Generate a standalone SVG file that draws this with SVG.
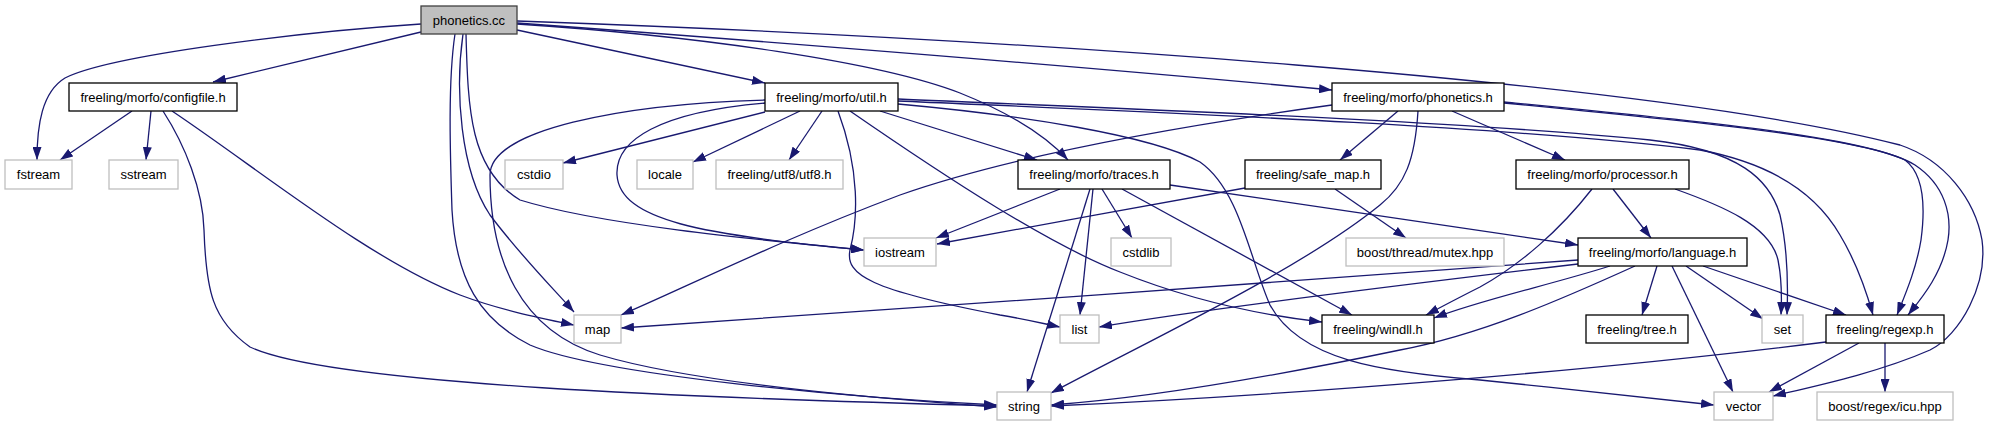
<svg xmlns="http://www.w3.org/2000/svg" width="1991" height="427" viewBox="0 0 1991 427">
<defs>
<marker id="ah" markerUnits="userSpaceOnUse" markerWidth="13" markerHeight="9" refX="13" refY="4.5" orient="auto" viewBox="0 0 13 9">
<path d="M0,0 L13,4.5 L0,9 z" fill="#191970"/>
</marker>
<style>
.e{fill:none;stroke:#191970;stroke-width:1.3;marker-end:url(#ah)}
.n rect{fill:#fff;stroke:#000;stroke-width:1.3}
.g rect{fill:#fff;stroke:#bfbfbf;stroke-width:1.3}
.r rect{fill:#bfbfbf;stroke:#404040;stroke-width:1.3}
text{font-family:"Liberation Sans",Arial,sans-serif;font-size:13px;fill:#000;text-anchor:middle}
</style>
</defs>
<rect width="1991" height="427" fill="#fff"/>
<g id="edges">
<!-- phonetics.cc -->
<path class="e" d="M421,24 C300,32 110,55 65,78 C42,92 37,125 37,160"/>
<path class="e" d="M421,32 L213,82"/>
<path class="e" d="M517,30 L765,83"/>
<path class="e" d="M517,23 C750,40 1100,68 1332,90"/>
<path class="e" d="M517,24 C700,36 880,62 960,93 C1010,113 1045,135 1068,160"/>
<path class="e" d="M517,21 C1000,38 1650,80 1900,145 C1945,160 1975,200 1982,240 C1988,285 1960,335 1930,350 C1880,372 1820,385 1773,396"/>
<path class="e" d="M455,34 C448,80 450,150 452,210 C456,280 480,320 530,345 C600,375 850,398 997,405"/>
<path class="e" d="M463,34 C455,90 460,170 490,215 C520,255 550,285 574,312"/>
<path class="e" d="M466,34 C468,110 470,170 520,200 C600,225 760,240 864,250"/>
<!-- configfile.h -->
<path class="e" d="M132,111 L60,160"/>
<path class="e" d="M151,111 L146,160"/>
<path class="e" d="M163,111 C185,145 203,190 204,230 C206,290 212,320 250,347 C330,385 700,398 997,406"/>
<path class="e" d="M172,111 C260,170 370,260 460,295 C500,310 540,318 574,325"/>
<!-- util.h -->
<path class="e" d="M765,112 L563,163"/>
<path class="e" d="M800,111 L693,162"/>
<path class="e" d="M822,111 L789,160"/>
<path class="e" d="M765,100 C620,104 490,130 490,175 C490,260 520,330 600,355 C700,385 900,400 997,407"/>
<path class="e" d="M765,103 C660,112 615,140 617,175 C620,220 700,235 864,250"/>
<path class="e" d="M838,111 C860,170 858,220 850,250 C845,275 870,290 1000,315 C1030,320 1045,324 1060,327"/>
<path class="e" d="M850,111 C950,180 1050,245 1120,272 C1190,300 1260,315 1322,322"/>
<path class="e" d="M880,111 L1037,160"/>
<path class="e" d="M898,104 C1020,115 1150,135 1200,162 C1240,190 1250,260 1270,305 C1300,360 1380,372 1480,380 C1560,388 1650,398 1714,405"/>
<path class="e" d="M898,99 C1100,108 1450,120 1650,140 C1740,150 1770,180 1780,215 C1788,250 1788,290 1787,315"/>
<path class="e" d="M898,101 C1100,110 1500,125 1700,150 C1780,165 1820,200 1840,235 C1855,260 1866,290 1873,315"/>
<!-- phonetics.h -->
<path class="e" d="M1332,105 C1150,130 1000,160 900,195 C780,240 680,290 621,315"/>
<path class="e" d="M1398,111 L1340,160"/>
<path class="e" d="M1418,111 C1415,160 1405,185 1380,205 C1300,270 1150,340 1051,393"/>
<path class="e" d="M1452,111 L1565,160"/>
<path class="e" d="M1504,103 C1700,122 1860,138 1905,160 C1925,175 1925,210 1921,240 C1916,270 1905,295 1897,315"/>
<path class="e" d="M1504,102 C1700,121 1870,137 1915,165 C1945,185 1952,215 1948,240 C1942,275 1920,300 1908,315"/>
<!-- traces.h -->
<path class="e" d="M1060,189 L936,238"/>
<path class="e" d="M1090,189 L1027,392"/>
<path class="e" d="M1093,189 L1080,315"/>
<path class="e" d="M1102,189 L1132,238"/>
<path class="e" d="M1122,189 L1352,315"/>
<path class="e" d="M1170,185 C1300,205 1450,225 1578,245"/>
<!-- safe_map.h -->
<path class="e" d="M1245,188 C1150,205 1030,227 937,244"/>
<path class="e" d="M1335,189 L1406,238"/>
<!-- processor.h -->
<path class="e" d="M1592,189 C1560,230 1520,265 1480,287 C1460,297 1445,305 1426,315"/>
<path class="e" d="M1613,189 L1651,238"/>
<path class="e" d="M1675,189 C1720,205 1770,225 1778,260 C1782,280 1782,295 1781,315"/>
<!-- language.h -->
<path class="e" d="M1578,260 C1300,280 900,310 621,328"/>
<path class="e" d="M1578,264 C1400,285 1200,310 1099,327"/>
<path class="e" d="M1610,266 C1550,285 1480,300 1434,318"/>
<path class="e" d="M1635,266 C1560,300 1480,335 1400,350 C1280,375 1150,398 1051,405"/>
<path class="e" d="M1657,266 L1642,315"/>
<path class="e" d="M1672,266 L1733,392"/>
<path class="e" d="M1686,266 L1763,319"/>
<path class="e" d="M1703,266 L1846,315"/>
<!-- regexp.h -->
<path class="e" d="M1826,342 C1600,370 1300,395 1051,406"/>
<path class="e" d="M1859,343 L1769,392"/>
<path class="e" d="M1885,343 L1885,392"/>
</g>
<g id="phonetics_cc" class="r"><rect x="421" y="6" width="96" height="28"/><text x="469" y="24.5">phonetics.cc</text></g>
<g id="configfile_h" class="n"><rect x="69" y="83" width="168" height="28"/><text x="153" y="101.5">freeling/morfo/configfile.h</text></g>
<g id="util_h" class="n"><rect x="765" y="83" width="133" height="28"/><text x="831.5" y="101.5">freeling/morfo/util.h</text></g>
<g id="phonetics_h" class="n"><rect x="1332" y="83" width="172" height="28"/><text x="1418" y="101.5">freeling/morfo/phonetics.h</text></g>
<g id="fstream" class="g"><rect x="5" y="160" width="67" height="29"/><text x="38.5" y="179">fstream</text></g>
<g id="sstream" class="g"><rect x="109" y="160" width="69" height="29"/><text x="143.5" y="179">sstream</text></g>
<g id="cstdio" class="g"><rect x="505" y="160" width="58" height="29"/><text x="534" y="179">cstdio</text></g>
<g id="locale" class="g"><rect x="637" y="160" width="56" height="29"/><text x="665" y="179">locale</text></g>
<g id="utf8_h" class="g"><rect x="716" y="160" width="127" height="29"/><text x="779.5" y="179">freeling/utf8/utf8.h</text></g>
<g id="traces_h" class="n"><rect x="1018" y="160" width="152" height="29"/><text x="1094" y="179">freeling/morfo/traces.h</text></g>
<g id="safe_map_h" class="n"><rect x="1245" y="160" width="136" height="29"/><text x="1313" y="179">freeling/safe_map.h</text></g>
<g id="processor_h" class="n"><rect x="1516" y="160" width="173" height="29"/><text x="1602.5" y="179">freeling/morfo/processor.h</text></g>
<g id="iostream" class="g"><rect x="864" y="238" width="72" height="28"/><text x="900" y="256.5">iostream</text></g>
<g id="cstdlib" class="g"><rect x="1111" y="238" width="60" height="28"/><text x="1141" y="256.5">cstdlib</text></g>
<g id="mutex_hpp" class="g"><rect x="1346" y="238" width="158" height="28"/><text x="1425" y="256.5">boost/thread/mutex.hpp</text></g>
<g id="language_h" class="n"><rect x="1578" y="238" width="169" height="28"/><text x="1662.5" y="256.5">freeling/morfo/language.h</text></g>
<g id="map" class="g"><rect x="574" y="315" width="47" height="28"/><text x="597.5" y="333.5">map</text></g>
<g id="list" class="g"><rect x="1060" y="315" width="39" height="28"/><text x="1079.5" y="333.5">list</text></g>
<g id="windll_h" class="n"><rect x="1322" y="315" width="112" height="28"/><text x="1378" y="333.5">freeling/windll.h</text></g>
<g id="tree_h" class="n"><rect x="1586" y="315" width="102" height="28"/><text x="1637" y="333.5">freeling/tree.h</text></g>
<g id="set" class="g"><rect x="1762" y="315" width="41" height="28"/><text x="1782.5" y="333.5">set</text></g>
<g id="regexp_h" class="n"><rect x="1826" y="315" width="118" height="28"/><text x="1885" y="333.5">freeling/regexp.h</text></g>
<g id="string" class="g"><rect x="997" y="392" width="54" height="28"/><text x="1024" y="410.5">string</text></g>
<g id="vector" class="g"><rect x="1714" y="392" width="59" height="28"/><text x="1743.5" y="410.5">vector</text></g>
<g id="icu_hpp" class="g"><rect x="1817" y="392" width="136" height="28"/><text x="1885" y="410.5">boost/regex/icu.hpp</text></g>
</svg>
